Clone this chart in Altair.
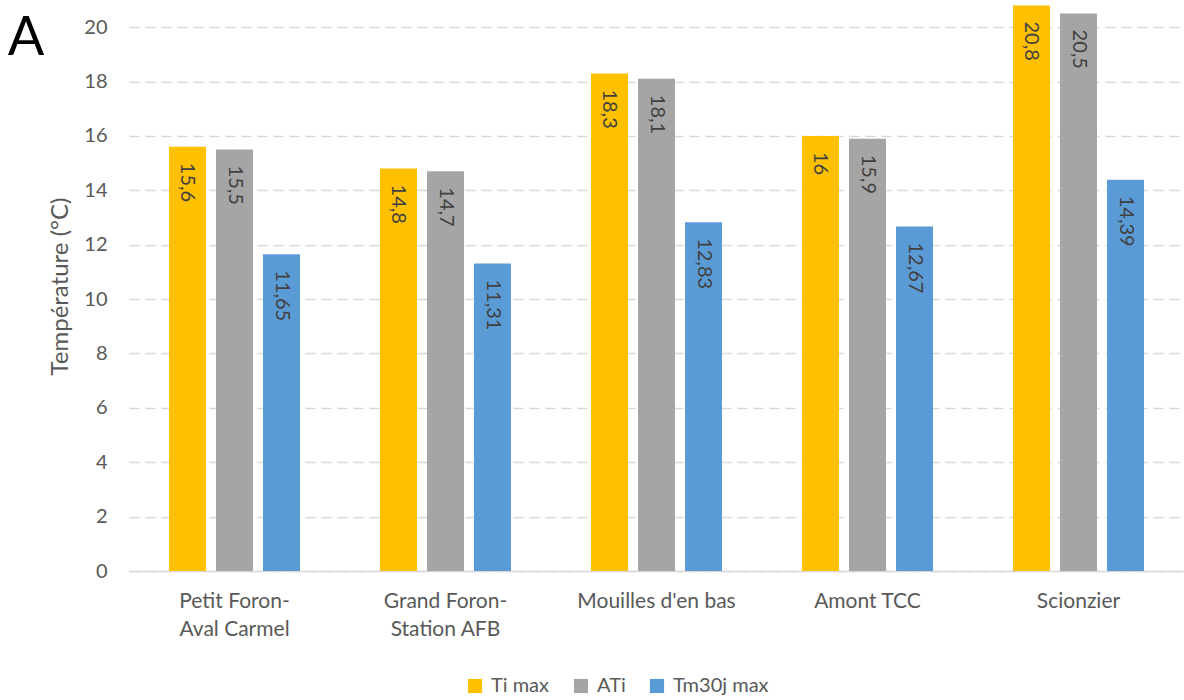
import altair as alt
import pandas as pd

categories = ["Petit Foron-Aval Carmel", "Grand Foron-Station AFB", "Mouilles d'en bas", "Amont TCC", "Scionzier"]
series = ["Ti max", "ATi", "Tm30j max"]
ti_max = [15.6, 14.8, 18.3, 16, 20.8]
ati = [15.5, 14.7, 18.1, 15.9, 20.5]
tm30j_max = [11.65, 11.31, 12.83, 12.67, 14.39]
colors = ["#FFC000", "#A5A5A5", "#5B9BD5"]
y_ticks = [0, 2, 4, 6, 8, 10, 12, 14, 16, 18, 20]

rows = []
for s, vals in zip(series, [ti_max, ati, tm30j_max]):
    for c, v in zip(categories, vals):
        rows.append({"site": c, "serie": s, "value": v})
df = pd.DataFrame(rows)

FONT = "Lato"
GREY = "#595959"

x_enc = alt.X("site:N", sort=categories,
              scale=alt.Scale(paddingInner=0, paddingOuter=0),
              axis=alt.Axis(title=None, labelAngle=0, ticks=False, grid=False,
                            domain=True, domainColor="#D9D9D9", domainWidth=1.5,
                            labelFont=FONT, labelFontSize=21, labelColor=GREY,
                            labelPadding=19, labelLineHeight=28, labelBaseline="top",
                            labelExpr="split(replace(datum.label, 'Foron-', 'Foron-|'), '|')"))
xo_enc = alt.XOffset("serie:N", sort=series,
                     scale=alt.Scale(paddingInner=0.213, paddingOuter=0.851))
y_enc = alt.Y("value:Q",
              scale=alt.Scale(domain=[0, 21], nice=False),
              axis=alt.Axis(title="Température (°C)", values=y_ticks, ticks=False,
                            domain=False, grid=True, gridColor="#D9D9D9",
                            gridDash=[10, 6], gridWidth=1.3,
                            labelFont=FONT, labelFontSize=20, labelColor=GREY,
                            labelPadding=22,
                            titleFont=FONT, titleFontSize=24, titleColor=GREY,
                            titleFontWeight="normal", titleX=-69, titleY=286,
                            titleAngle=-90, titleAlign="center", titleBaseline="middle"))

base = alt.Chart(df)

bars = base.mark_bar().encode(
    x=x_enc, xOffset=xo_enc, y=y_enc,
    color=alt.Color("serie:N", sort=series,
                    scale=alt.Scale(domain=series, range=colors),
                    legend=alt.Legend(title=None, orient="none", direction="horizontal",
                                      legendX=336, legendY=676,
                                      symbolType="square", symbolSize=200,
                                      symbolStrokeWidth=0, symbolOpacity=1,
                                      labelFont=FONT, labelFontSize=20, labelColor=GREY,
                                      columnPadding=21, labelOffset=6)),
)

labels = base.transform_calculate(
    lab="replace(toString(datum.value), '.', ',')"
).mark_text(angle=90, align="left", baseline="middle", dx=16,
            font=FONT, fontSize=20, color="#404040").encode(
    x=alt.X("site:N", sort=categories), xOffset=alt.XOffset("serie:N", sort=series),
    y="value:Q", text="lab:N",
)

letter = alt.Chart(pd.DataFrame({"t": ["A"]})).mark_text(
    font=FONT, fontSize=54, color="#000000", align="center", baseline="alphabetic"
).encode(text="t:N", x=alt.value(-103), y=alt.value(55))

chart = alt.layer(bars, labels, letter).properties(
    width=1055, height=571,
    autosize=alt.AutoSizeParams(type="none"),
    padding={"left": 129, "top": 0, "right": 0, "bottom": 129},
).configure_view(stroke=None)

chart.save("out.html", embed_options={"renderer": "svg", "actions": False})
